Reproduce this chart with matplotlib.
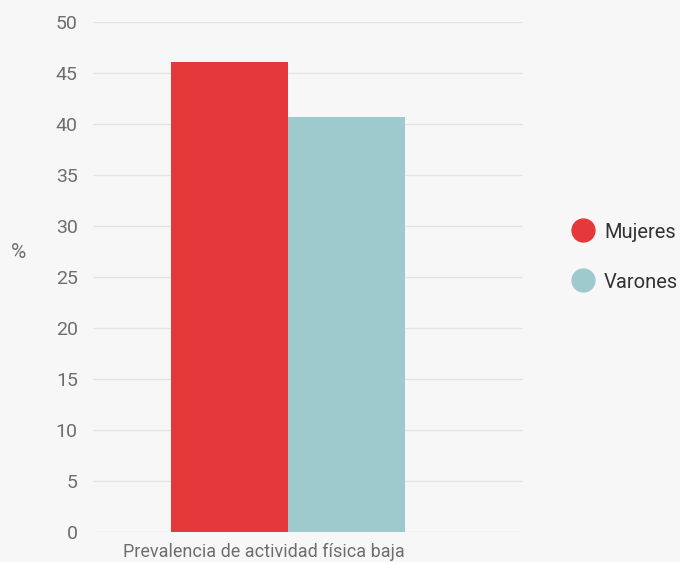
import matplotlib
matplotlib.use("Agg")
import matplotlib.pyplot as plt
from matplotlib.lines import Line2D

plt.rcParams['font.family'] = ['Roboto', 'DejaVu Sans']

category = 'Prevalencia de actividad física baja'
series = ['Mujeres', 'Varones']
values = [46.1, 40.7]
colors = ['#e5383b', '#9fcacd']

bg = '#f7f7f7'
fig = plt.figure(figsize=(6.8, 5.62), dpi=100, facecolor=bg)
ax = fig.add_axes([0.1368, 0.054, 0.632, 0.907], facecolor=bg)

# group is drawn a bit left of the axes centre, as in the original
center = -0.047
w = 0.272
offsets = [center - w / 2, center + w / 2]
for off, v, c in zip(offsets, values, colors):
    ax.bar(off, v, width=w, color=c, zorder=3)

ax.set_xlim(-0.5, 0.5)
ax.set_ylim(0, 50)
ax.set_yticks(range(0, 51, 5))
ax.yaxis.grid(True, color='#e4e4e4', linewidth=1, zorder=0)
ax.tick_params(axis='y', length=0, pad=11, labelsize=14, labelcolor='#6e6e6e')
ax.set_xticks([])
for s in ax.spines.values():
    s.set_visible(False)

ax.text(center - 0.055, -0.022, category, transform=ax.get_xaxis_transform(),
        ha='center', va='top', fontsize=13, color='#6e6e6e')
fig.text(18 / 680, 1 - 252 / 562, '%', ha='center', va='center',
         fontsize=15, color='#6e6e6e')

# legend drawn by hand
for i, (name, c) in enumerate(zip(series, colors)):
    y = 1 - (230 + 50 * i) / 562
    fig.add_artist(Line2D([583 / 680], [y], marker='o', linestyle='',
                          markersize=16.5, markerfacecolor=c, markeredgecolor=c,
                          transform=fig.transFigure))
    fig.text(604 / 680, y, name, ha='left', va='center_baseline',
             fontsize=14.5, color='#333333')

fig.savefig('out.png', dpi=100, facecolor=bg)
